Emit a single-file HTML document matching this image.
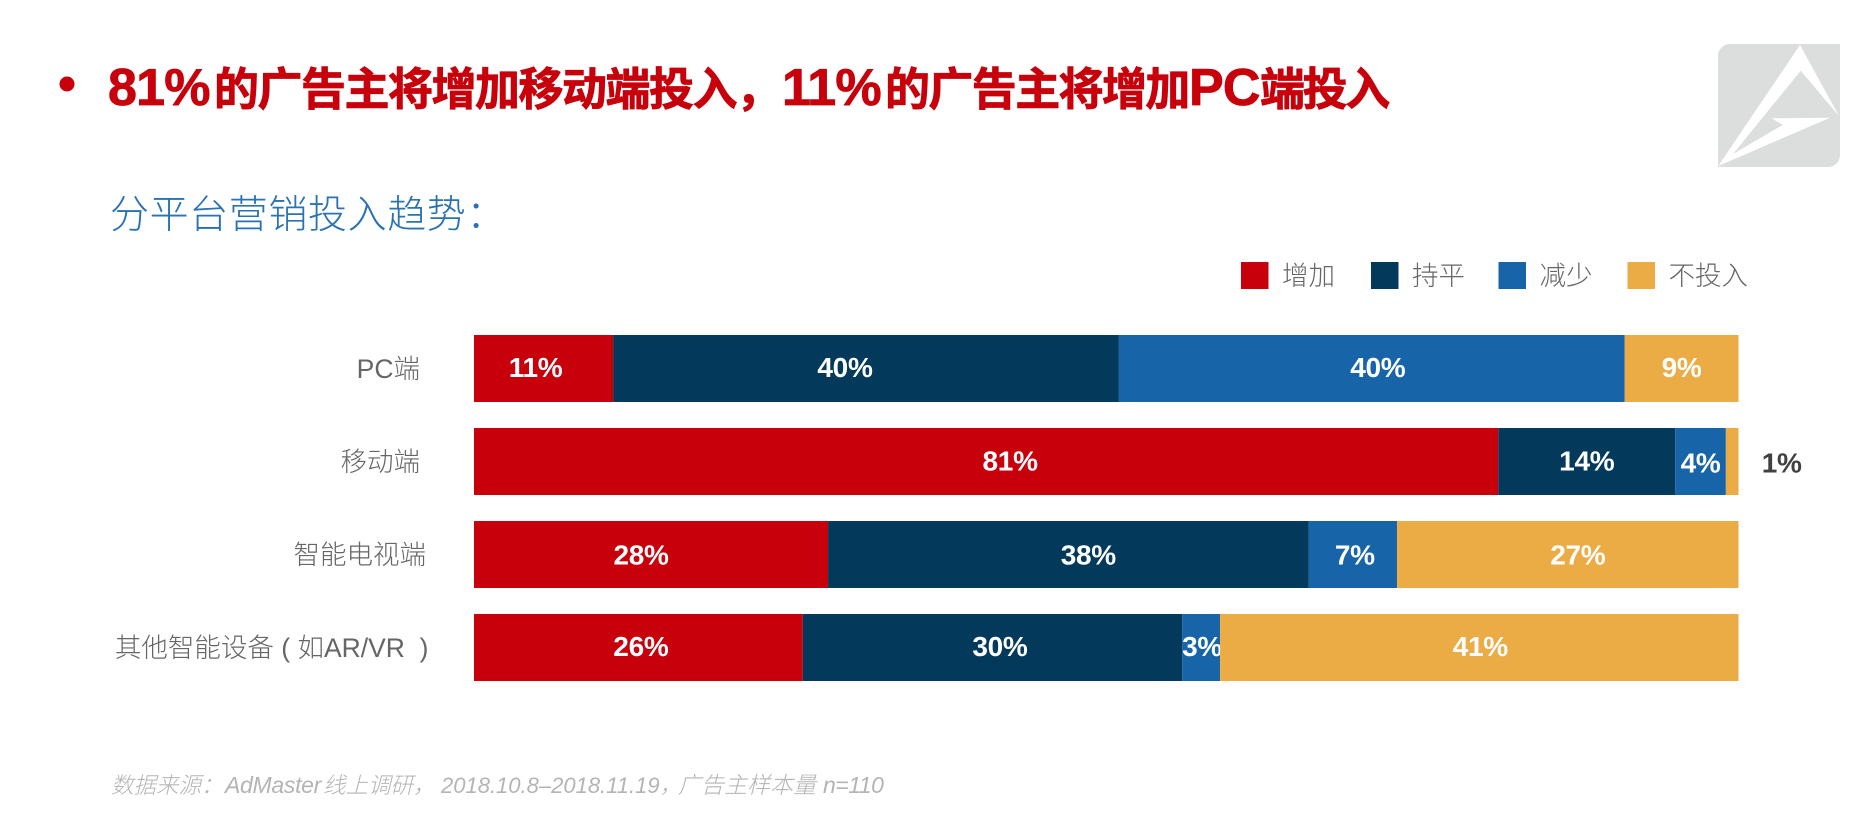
<!DOCTYPE html>
<html lang="zh-CN">
<head>
<meta charset="utf-8">
<title>分平台营销投入趋势</title>
<style>
  html, body { margin: 0; padding: 0; background: #fff; width: 1876px; height: 833px; overflow: hidden; }
  svg { display: block; }
  text { font-family: "Liberation Sans", "Noto Sans CJK SC", sans-serif; }
  .cjk { font-family: "Noto Sans CJK SC", "Liberation Sans", sans-serif; }
</style>
</head>
<body>
<svg id="stage" xmlns="http://www.w3.org/2000/svg" width="1876" height="833" viewBox="0 0 1876 833">
  <circle cx="67" cy="84" r="7.5" fill="#c7000b"/>
  <text y="105" fill="#c7000b" stroke="#c7000b" stroke-width="0.8" font-weight="700">
    <tspan x="108" font-size="52" letter-spacing="-0.8">81%</tspan><tspan x="214" font-size="45" letter-spacing="-1.5" class="cjk">的广告主将增加移动端投入，</tspan><tspan x="782" font-size="52" letter-spacing="-0.8">11%</tspan><tspan x="885" font-size="45" letter-spacing="-1.6" class="cjk">的广告主将增加</tspan><tspan x="1189" font-size="52" letter-spacing="-0.8">PC</tspan><tspan x="1260" font-size="45" letter-spacing="-2.4" class="cjk">端投入</tspan>
  </text>
  <text x="110" y="228" font-size="39" font-weight="300" fill="#2a72b2" letter-spacing="0.6">分平台营销投入趋势：</text>

  <g>
    <path d="M1730 44 H1840 V155 a12 12 0 0 1 -12 12 H1718 V56 a12 12 0 0 1 12 -12 Z" fill="#dcdedd"/>
    <polygon points="1800,45 1839,116 1800.7,70.7 1733,154 1782.7,125 1771.7,118.3 1830,117.7 1718.3,166" fill="#fff"/>
  </g>

  <g id="legend"></g>
  <g id="chart"></g>

  <text y="793" font-size="23" font-style="italic" font-weight="300" fill="#b4b4b4">
    <tspan x="111" font-size="22.5" class="cjk">数据来源：</tspan><tspan x="225" font-size="23" letter-spacing="-0.3">AdMaster</tspan><tspan x="323" font-size="22.5" class="cjk">线上调研，</tspan><tspan x="441" font-size="22">2018.10.8–2018.11.19，</tspan><tspan x="678" font-size="23" class="cjk">广告主样本量</tspan><tspan x="823" font-size="23" letter-spacing="-0.5">n=110</tspan>
  </text>
</svg>

<script>
const categories = ['PC端', '移动端', '智能电视端', '其他智能设备 ( 如AR/VR \u00a0)'];
const seriesNames = ['增加', '持平', '减少', '不投入'];
const increaseValues = [11, 81, 28, 26];
const flatValues = [40, 14, 38, 30];
const decreaseValues = [40, 4, 7, 3];
const noInvestValues = [9, 1, 27, 41];

(function () {
  const NS = 'http://www.w3.org/2000/svg';
  const series = [increaseValues, flatValues, decreaseValues, noInvestValues];
  const colors = ['#c7000b', '#033a5b', '#1864a8', '#ebac46'];
  const seriesSlugs = ['increase', 'flat', 'decrease', 'no-invest'];

  const plotLeft = 474, plotRight = 1738.5;
  const firstBarTop = 335, bandStep = 93, barHeight = 67;
  const xScale = function (v) { return plotLeft + (v / 100) * (plotRight - plotLeft); };
  const yBand = function (i) { return firstBarTop + i * bandStep; };

  // Layout-only: hand placement of printed labels relative to segment centres.
  const labelShift = [[-8, -21, 6, 0], [24, 0, 0, 49.5], [-10, 20, 2, 10], [2.5, 7.5, 1, 1]];
  const labelRiseY = [[-1.5, -1.5, -1.5, -1.5], [-1, -1, 1, 1], [0, 0, 0, 0], [-1.5, -1.5, -1.5, -1.5]];
  const categoryRight = [420, 420, 426, 428.5];

  function make(tag, attrs, parent) {
    const el = document.createElementNS(NS, tag);
    Object.keys(attrs).forEach(function (k) { el.setAttribute(k, attrs[k]); });
    parent.appendChild(el);
    return el;
  }

  const chart = document.getElementById('chart');
  categories.forEach(function (cat, r) {
    const top = yBand(r);
    const mid = top + barHeight / 2;

    const catLabel = make('text', {
      x: categoryRight[r], y: mid + 9.5, 'text-anchor': 'end', 'font-size': 26.5,
      'font-weight': 300, fill: '#666666'
    }, chart);
    
    
    catLabel.textContent = cat;

    let cum = 0;
    series.forEach(function (vals, s) {
      const v = vals[r];
      const x0 = xScale(cum), x1 = xScale(cum + v);
      const bar = make('rect', { x: x0, y: top, width: x1 - x0, height: barHeight, fill: colors[s] }, chart);
      
      

      const outside = r === 1 && s === 3;
      const label = make('text', {
        x: (x0 + x1) / 2 + labelShift[r][s], y: mid + 10 + labelRiseY[r][s],
        'text-anchor': 'middle', 'font-size': 28, 'font-weight': 700,
        fill: outside ? '#404040' : '#ffffff', 'letter-spacing': -0.3
      }, chart);
      
      
      label.textContent = v + '%';
      cum += v;
    });
  });

  const legend = document.getElementById('legend');
  const swatchX = [1241, 1371, 1498.5, 1627.5];
  seriesNames.forEach(function (name, s) {
    const swatch = make('rect', { x: swatchX[s], y: 262, width: 27.5, height: 27, fill: colors[s] }, legend);
    
    

    const text = make('text', {
      x: swatchX[s] + 41, y: 285, 'font-size': 26.5, 'font-weight': 300, fill: '#666666'
    }, legend);
    
    
    text.textContent = name;
  });
})();
</script>
</body>
</html>
